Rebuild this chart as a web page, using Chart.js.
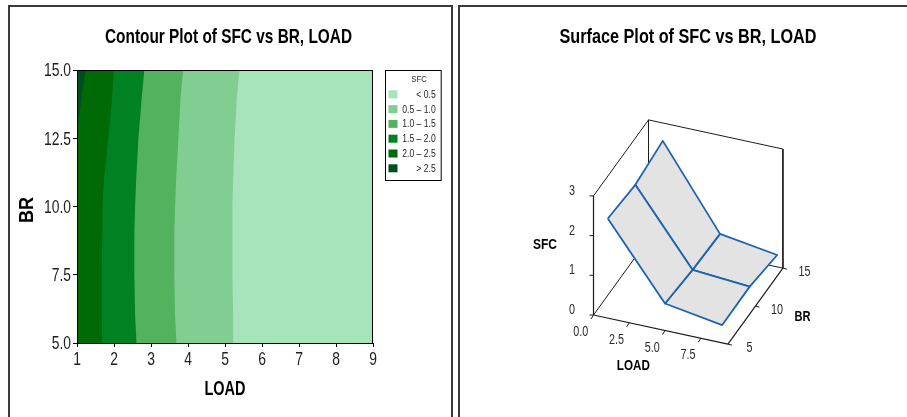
<!DOCTYPE html>
<html>
<head>
<meta charset="utf-8">
<script src="https://cdn.jsdelivr.net/npm/chart.js@4.4.1/dist/chart.umd.min.js"></script>
<style>
  html, body { margin: 0; padding: 0; background: #fff; width: 907px; height: 417px; overflow: hidden; }
  canvas { position: absolute; top: 0; }
  #contour { left: 0; }
  #surface { left: 455px; }
  .panel { position: absolute; box-sizing: border-box; pointer-events: none; }
  #panelL { left: 8px; top: 5px; width: 445px; height: 420px; border: 2px solid #3a3a3a; }
  #panelR { left: 458px; top: 5px; width: 470px; height: 420px; border: 2px solid #3a3a3a; }
</style>
</head>
<body>
<canvas id="contour" width="457" height="417"></canvas>
<canvas id="surface" width="452" height="417"></canvas>
<div class="panel" id="panelL"></div>
<div class="panel" id="panelR"></div>
<script>
// ---------- Contour plot data ----------
// LOAD position of each SFC contour line, sampled along BR
const brLevels   = [5, 6, 7.5, 9, 10, 11, 12.5, 14, 15];
const loadSfc05  = [5.24, 5.22, 5.20, 5.20, 5.20, 5.22, 5.26, 5.32, 5.39];
const loadSfc10  = [3.69, 3.65, 3.63, 3.63, 3.65, 3.68, 3.74, 3.80, 3.87];
const loadSfc15  = [2.61, 2.57, 2.55, 2.55, 2.57, 2.60, 2.66, 2.75, 2.82];
const loadSfc20  = [1.68, 1.67, 1.67, 1.68, 1.69, 1.73, 1.85, 1.95, 2.00];
const loadSfc25  = [1.00, 1.00, 1.00, 1.00, 1.00, 1.00, 1.00, 1.12, 1.24];
const sfcBandLabels = ['< 0.5', '0.5 \u2013 1.0', '1.0 \u2013 1.5', '1.5 \u2013 2.0', '2.0 \u2013 2.5', '> 2.5'];
const sfcBandColors = ['#a6e4bc', '#82ce92', '#52b25e', '#008222', '#006a06', '#004f1c'];
const loadTicks = [1, 2, 3, 4, 5, 6, 7, 8, 9];
const brTicks   = [5, 7.5, 10, 12.5, 15];

// ---------- Surface plot data ----------
const surfLoad = [1, 5, 9];
const surfBR   = [5, 10, 15];
// SFC rows follow surfBR, columns follow surfLoad
const surfSfcBR5  = [2.51, 0.68, 0.45];
const surfSfcBR10 = [2.40, 0.57, 0.46];
const surfSfcBR15 = [2.55, 0.52, 0.30];
const surfLoadTicks = [0, 2.5, 5, 7.5];
const surfBRTicks   = [5, 10, 15];
const surfSfcTicks  = [0, 1, 2, 3];
const surfLoadRange = [0, 9.4];
const surfBRRange   = [5, 15];
const surfSfcRange  = [0, 3];

const FONT = "'Liberation Sans', Arial, sans-serif";
Chart.defaults.font.family = FONT;
Chart.defaults.animation = false;

// Narrow lettering: text is squeezed horizontally with fillText's maxWidth.
// y is the vertical centre of the capitals unless o.baseline is set.
function drawText(ctx, text, x, y, o) {
  ctx.save();
  ctx.font = `${o.bold ? 'bold ' : ''}${o.size}px ${FONT}`;
  ctx.fillStyle = o.color || '#1e1e1e';
  ctx.textAlign = o.align || 'center';
  ctx.textBaseline = 'alphabetic';
  ctx.translate(x, y);
  if (o.rotate) ctx.rotate(o.rotate);
  const natural = ctx.measureText(text).width;
  const maxW = o.width || natural * (o.squeeze || 1);
  const by = o.baseline ? 0 : 0.358 * o.size;
  ctx.fillText(text, 0, by, maxW);
  ctx.restore();
}

// ---------- Contour chart ----------
const boundaryOrder = [loadSfc25, loadSfc20, loadSfc15, loadSfc10, loadSfc05];
const contourSets = boundaryOrder.map((arr, i) => ({
  data: brLevels.map((b, k) => ({ x: arr[k], y: b })),
  fill: { value: loadTicks[0] },
  backgroundColor: sfcBandColors[5 - i],
  borderWidth: 0,
  pointRadius: 0,
  tension: 0,
  xAxisID: 'x', yAxisID: 'y'
}));

const contourDecor = {
  id: 'contourDecor',
  beforeDatasetsDraw(chart) {
    const { ctx, chartArea: a } = chart;
    ctx.save();
    ctx.fillStyle = sfcBandColors[0];
    ctx.fillRect(a.left, a.top, a.right - a.left, a.bottom - a.top);
    ctx.restore();
  },
  afterDatasetsDraw(chart) {
    const { ctx, chartArea: a } = chart;
    ctx.save();
    ctx.strokeStyle = '#000';
    ctx.lineWidth = 1;
    ctx.strokeRect(a.left + 0.5, a.top + 0.5, a.right - a.left - 1, a.bottom - a.top);
    ctx.restore();
  },
  afterDraw(chart) {
    const { ctx, chartArea: a } = chart;
    const xs = chart.scales.x, ys = chart.scales.y;
    drawText(ctx, 'Contour Plot of SFC vs BR, LOAD', chart.width / 2, 43.3,
      { size: 21, bold: true, color: '#000', width: 247, baseline: true });
    loadTicks.forEach(v => drawText(ctx, String(v), xs.getPixelForValue(v), a.bottom + 15.5,
      { size: 17.7, squeeze: 0.785 }));
    brTicks.forEach(v => drawText(ctx, v.toFixed(1), a.left - 6, ys.getPixelForValue(v),
      { size: 17.7, squeeze: 0.785, align: 'right' }));
    drawText(ctx, 'LOAD', (a.left + a.right) / 2, a.bottom + 52,
      { size: 21, bold: true, color: '#000', width: 41, baseline: true });
    drawText(ctx, 'BR', 33, (a.top + a.bottom) / 2 + 3.5,
      { size: 21, bold: true, color: '#000', width: 26, baseline: true, rotate: -Math.PI / 2 });

    // SFC key
    const x0 = a.right + 12, y0 = a.top, w = 55.7, h = 110;
    ctx.save();
    ctx.strokeStyle = '#000';
    ctx.lineWidth = 1;
    ctx.strokeRect(Math.round(x0) + 0.5, y0 + 0.5, w, h);
    ctx.restore();
    drawText(ctx, 'SFC', x0 + 34, y0 + 8.5, { size: 9, squeeze: 0.85 });
    sfcBandLabels.forEach((lab, i) => {
      const cy = y0 + 24.3 + i * 14.8;
      ctx.fillStyle = sfcBandColors[i];
      ctx.fillRect(x0 + 3.5, cy - 4, 9, 8);
      drawText(ctx, lab, x0 + w - 5, cy, { size: 10, squeeze: 0.86, align: 'right' });
    });
  }
};

new Chart(document.getElementById('contour'), {
  type: 'line',
  data: { datasets: contourSets },
  options: {
    responsive: false,
    indexAxis: 'y',
    layout: { padding: { top: 70 } },
    plugins: { legend: { display: false }, tooltip: { enabled: false }, title: { display: false } },
    scales: {
      x: {
        type: 'linear', position: 'bottom', min: loadTicks[0], max: loadTicks[loadTicks.length - 1],
        afterBuildTicks: s => { s.ticks = loadTicks.map(v => ({ value: v })); },
        ticks: { display: false },
        grid: { drawOnChartArea: false, drawTicks: true, tickLength: 4, tickColor: '#000' },
        border: { color: '#000', width: 1 },
        afterFit: s => { s.height = 74; }
      },
      y: {
        type: 'linear', position: 'left', min: brTicks[0], max: brTicks[brTicks.length - 1],
        afterBuildTicks: s => { s.ticks = brTicks.map(v => ({ value: v })); },
        ticks: { display: false },
        grid: { drawOnChartArea: false, drawTicks: true, tickLength: 4, tickColor: '#000' },
        border: { color: '#000', width: 1 },
        afterFit: s => { s.width = 77; }
      },
      keySpace: {
        type: 'linear', position: 'right', min: 0, max: 1, display: true,
        ticks: { display: false }, grid: { display: false }, border: { display: false },
        afterFit: s => { s.width = 84; }
      }
    }
  },
  plugins: [contourDecor]
});

// ---------- Surface chart ----------
// oblique view: LOAD runs right/down, BR runs back/up-right, SFC runs up
const VIEW = { u0: 138.5, v0: 315, uL: 14.3, vL: 3.1, uB: 5.5, vB: -7.6, vZ: -39.7 };
function proj(L, B, Z) {
  return {
    x: VIEW.u0 + VIEW.uL * L + VIEW.uB * (B - surfBRRange[0]),
    y: VIEW.v0 + VIEW.vL * L + VIEW.vB * (B - surfBRRange[0]) + VIEW.vZ * Z
  };
}
const shift = (p, dx, dy) => ({ x: p.x + dx, y: p.y + dy });

const surfSfc = [surfSfcBR5, surfSfcBR10, surfSfcBR15];
const [L0, L1] = surfLoadRange, [B0, B1] = surfBRRange, [Z0, Z1] = surfSfcRange;

const lineSet = (pts, color, width, order) => ({
  data: pts, borderColor: color, borderWidth: width, pointRadius: 0,
  fill: false, tension: 0, order
});

const surfSets = [];
// back walls of the box
[
  [[L0, B0, Z1], [L0, B1, Z1]],
  [[L0, B1, Z1], [L1, B1, Z1]],
  [[L1, B1, Z1], [L1, B1, Z0]],
  [[L0, B1, Z1], [L0, B1, Z0]],
  [[L0, B0, Z0], [L0, B1, Z0]],
  [[L0, B1, Z0], [L1, B1, Z0]]
].forEach(e => surfSets.push(lineSet(e.map(c => proj(...c)), '#1c1c1c', 1, 40)));

// surface facets, back row first
for (let j = 0; j < surfBR.length - 1; j++) {
  for (let i = 0; i < surfLoad.length - 1; i++) {
    const corner = (a, b) => proj(surfLoad[a], surfBR[b], surfSfc[b][a]);
    const poly = [corner(i, j), corner(i + 1, j), corner(i + 1, j + 1), corner(i, j + 1), corner(i, j)];
    surfSets.push({
      data: poly, fill: 'shape', backgroundColor: '#e3e3e3',
      borderColor: '#1d63b0', borderWidth: 1.8, borderJoinStyle: 'round',
      pointRadius: 0, tension: 0, order: 20 + j
    });
  }
}

// front axes
[
  [[L0, B0, Z0], [L0, B0, Z1]],
  [[L0, B0, Z0], [L1, B0, Z0]],
  [[L1, B0, Z0], [L1, B1, Z0]]
].forEach(e => surfSets.push(lineSet(e.map(c => proj(...c)), '#1c1c1c', 1.2, 2)));

// tick marks
surfSfcTicks.forEach(z => { const p = proj(L0, B0, z); surfSets.push(lineSet([p, shift(p, -4, 0)], '#1c1c1c', 1, 1)); });
surfLoadTicks.forEach(l => { const p = proj(l, B0, Z0); surfSets.push(lineSet([p, shift(p, -2.5, 4)], '#1c1c1c', 1, 1)); });
surfBRTicks.forEach(b => { const p = proj(L1, b, Z0); surfSets.push(lineSet([p, shift(p, 4, 1)], '#1c1c1c', 1, 1)); });

const surfaceLabels = {
  id: 'surfaceLabels',
  afterDraw(chart) {
    const { ctx } = chart;
    const xs = chart.scales.x, ys = chart.scales.y;
    const at = (p, dx, dy) => [xs.getPixelForValue(p.x) + dx, ys.getPixelForValue(p.y) + dy];
    drawText(ctx, 'Surface Plot of SFC vs BR, LOAD', 688 - 455, 43.3,
      { size: 21, bold: true, color: '#000', width: 257, baseline: true });
    const tick = { size: 14, squeeze: 0.77, color: '#2a2a2a' };
    surfSfcTicks.forEach(z => drawText(ctx, String(z), ...at(proj(L0, B0, z), -18.5, -6), { ...tick, align: 'right' }));
    surfLoadTicks.forEach(l => drawText(ctx, l.toFixed(1), ...at(proj(l, B0, Z0), -12.8, 16), tick));
    surfBRTicks.forEach(b => drawText(ctx, String(b), ...at(proj(L1, b, Z0), 21.5, 2.5), tick));
    const ttl = { size: 15, bold: true, color: '#000' };
    drawText(ctx, 'SFC', ...at(proj(L0, B0, 1.8), -48.5, 0), { ...ttl, width: 24 });
    drawText(ctx, 'LOAD', ...at(proj(4.7, B0, Z0), -27.4, 35.4), { ...ttl, width: 33 });
    drawText(ctx, 'BR', ...at(proj(L1, 10, Z0), 47, 9), { ...ttl, width: 16 });
  }
};

new Chart(document.getElementById('surface'), {
  type: 'line',
  data: { datasets: surfSets },
  options: {
    responsive: false,
    layout: { padding: 0 },
    plugins: { legend: { display: false }, tooltip: { enabled: false }, title: { display: false } },
    scales: {
      x: { type: 'linear', min: 0, max: 452, display: false },
      y: { type: 'linear', min: 0, max: 417, reverse: true, display: false }
    }
  },
  plugins: [surfaceLabels]
});
</script>
</body>
</html>
